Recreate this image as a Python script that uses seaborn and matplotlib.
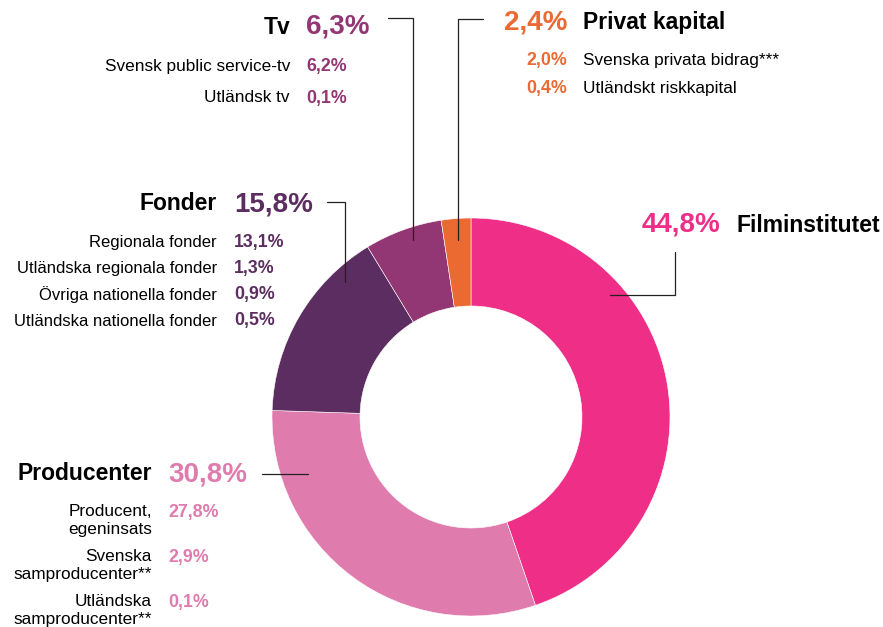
import matplotlib
matplotlib.use("Agg")
import matplotlib.pyplot as plt
import seaborn as sns

# Finansiering, andel av total (%)
categories = ["Filminstitutet", "Producenter", "Fonder", "Tv", "Privat kapital"]
shares = [44.8, 30.8, 15.8, 6.3, 2.4]

tv_items = ["Svensk public service-tv", "Utländsk tv"]
tv_values = [6.2, 0.1]
fond_items = ["Regionala fonder", "Utländska regionala fonder",
              "Övriga nationella fonder", "Utländska nationella fonder"]
fond_values = [13.1, 1.3, 0.9, 0.5]
privat_items = ["Svenska privata bidrag***", "Utländskt riskkapital"]
privat_values = [2.0, 0.4]
prod_items = ["Producent,\negeninsats", "Svenska\nsamproducenter**", "Utländska\nsamproducenter**"]
prod_values = [27.8, 2.9, 0.1]

colors = sns.color_palette(["#EE2E87", "#E07BAE", "#5C2D60", "#923674", "#EB6A32"])

sns.set_theme(style="white")
plt.rcParams["font.family"] = ["Liberation Sans", "DejaVu Sans"]


def pct(v):
    return f"{v:.1f}".replace(".", ",") + "%"


fig = plt.figure(figsize=(8.83, 6.27), dpi=100)
ax = fig.add_axes([0, 0, 1, 1])

# donut, drawn in pixel space (y axis flipped below)
ax.pie(shares, colors=colors, center=(471, 417), radius=199,
       startangle=-90, counterclock=True,
       wedgeprops=dict(width=88, edgecolor="white", linewidth=0.4))
ax.set_xlim(0, 883)
ax.set_ylim(627, 0)
ax.axis("off")

BIG = 20
HEAD = 16.5
SMALL = 12.4
VAL = 12.8
line_kw = dict(color="#222222", lw=0.9)

# Tv
c = colors[3]
ax.text(290, 27, "Tv", ha="right", va="center", fontsize=HEAD, weight="bold", color="black")
ax.text(306, 27, pct(shares[3]), ha="left", va="center", fontsize=BIG, weight="bold", color=c)
for i, (name, v) in enumerate(zip(tv_items, tv_values)):
    y = 67 + i * 31
    ax.text(290, y, name, ha="right", va="center", fontsize=SMALL, color="black")
    ax.text(306, y, pct(v), ha="left", va="center", fontsize=VAL, weight="bold", color=c)
ax.plot([388, 413, 413], [18, 18, 240], **line_kw)

# Fonder
c = colors[2]
ax.text(217, 204, "Fonder", ha="right", va="center", fontsize=HEAD, weight="bold", color="black")
ax.text(234, 204, pct(shares[2]), ha="left", va="center", fontsize=BIG, weight="bold", color=c)
for i, (name, v) in enumerate(zip(fond_items, fond_values)):
    y = 243 + i * 26
    ax.text(217, y, name, ha="right", va="center", fontsize=12.0, color="black")
    ax.text(234, y, pct(v), ha="left", va="center", fontsize=VAL, weight="bold", color=c)
ax.plot([327, 345, 345], [202, 202, 282], **line_kw)

# Privat kapital
c = colors[4]
ax.text(567, 23, pct(shares[4]), ha="right", va="center", fontsize=BIG, weight="bold", color=c)
ax.text(583, 23, "Privat kapital", ha="left", va="center", fontsize=HEAD, weight="bold", color="black")
for i, (name, v) in enumerate(zip(privat_items, privat_values)):
    y = 61 + i * 27
    ax.text(567, y, pct(v), ha="right", va="center", fontsize=VAL, weight="bold", color=c)
    ax.text(583, y, name, ha="left", va="center", fontsize=SMALL, color="black")
ax.plot([483, 458, 458], [19, 19, 240], **line_kw)

# Filminstitutet
c = colors[0]
ax.text(720, 225, pct(shares[0]), ha="right", va="center", fontsize=BIG, weight="bold", color=c)
ax.text(737, 225, "Filminstitutet", ha="left", va="center", fontsize=HEAD, weight="bold", color="black")
ax.plot([675, 675, 610], [252, 295, 295], **line_kw)

# Producenter
c = colors[1]
ax.text(152, 474, "Producenter", ha="right", va="center", fontsize=HEAD, weight="bold", color="black")
ax.text(168, 474, pct(shares[1]), ha="left", va="center", fontsize=BIG, weight="bold", color=c)
for i, (name, v) in enumerate(zip(prod_items, prod_values)):
    y = 504 + i * 45
    ax.text(152, y, name, ha="right", va="top", fontsize=SMALL, color="black", linespacing=1.25)
    ax.text(168, y, pct(v), ha="left", va="top", fontsize=VAL, weight="bold", color=c)
ax.plot([262, 308], [474, 474], **line_kw)

fig.savefig("out.png", dpi=100)
